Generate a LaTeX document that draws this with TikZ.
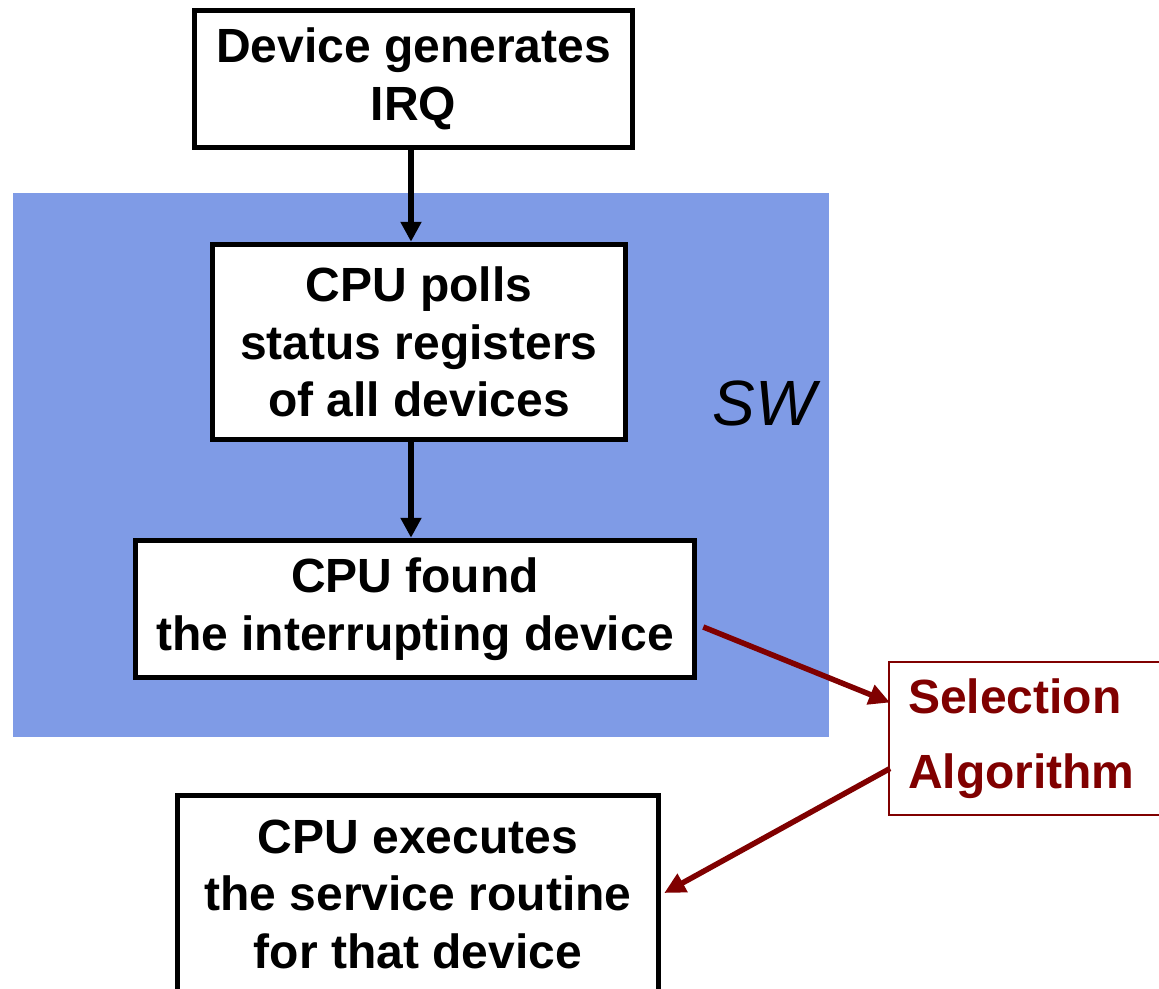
\documentclass[tikz,border=0pt]{standalone}
\usepackage{fontspec}
\setmainfont{Liberation Sans}
\usetikzlibrary{arrows.meta,calc}
\definecolor{swblue}{RGB}{127,155,230}
\definecolor{selred}{RGB}{128,0,0}
\tikzset{
  stepbox/.style={draw=black, line width=5.5pt, fill=white, align=center,
    font=\fontsize{48}{57.5}\selectfont\bfseries, inner sep=0pt},
  flow/.style={line width=6pt, -{Triangle[length=20pt,width=20pt]}},
  selflow/.style={line width=5.5pt, draw=selred, -{Triangle[length=21pt,width=20pt]}},
}
\begin{document}
\begin{tikzpicture}[x=1pt,y=-1pt]
\useasboundingbox (0,0) rectangle (1159,988);
% software region
\fill[swblue] (13,193) rectangle (829,737);
\node[font=\fontsize{64}{70}\selectfont\itshape, anchor=base] (sw) at (764,425) {SW};

\node[stepbox, minimum width=438pt, minimum height=137pt] (b1) at (413.5,79) {Device generates\\IRQ};
\node[stepbox, minimum width=413pt, minimum height=195pt] (b2) at (419,342) {CPU polls\\status registers\\of all devices};
\node[stepbox, minimum width=559pt, minimum height=137pt] (b3) at (415,609) {CPU found\\the interrupting device};
\node[stepbox, minimum width=481pt, minimum height=197pt] (b4) at (418,894) {CPU executes\\the service routine\\for that device};
\node[draw=selred, line width=2pt, fill=white, text=selred, align=left,
  font=\fontsize{48}{75}\selectfont\bfseries, minimum width=280pt, minimum height=153pt,
  text width=242pt, inner sep=0pt] (sel) at (1029,738.5) {\raisebox{-4pt}{Selection}\\\raisebox{-4pt}{Algorithm}};

\draw[flow] ([xshift=-2.5pt]b1.south) -- ([xshift=-8pt]b2.north);
\draw[flow] ([xshift=-8pt]b2.south) -- ([xshift=-4pt]b3.north);
\draw[selflow] ($(b3.east)+(6,18)$) -- ($(sel.west)+(2,-36)$);
\draw[selflow] ($(sel.west)+(2,30)$) -- ($(b4.east)+(3,-1)$);
\end{tikzpicture}
\end{document}
